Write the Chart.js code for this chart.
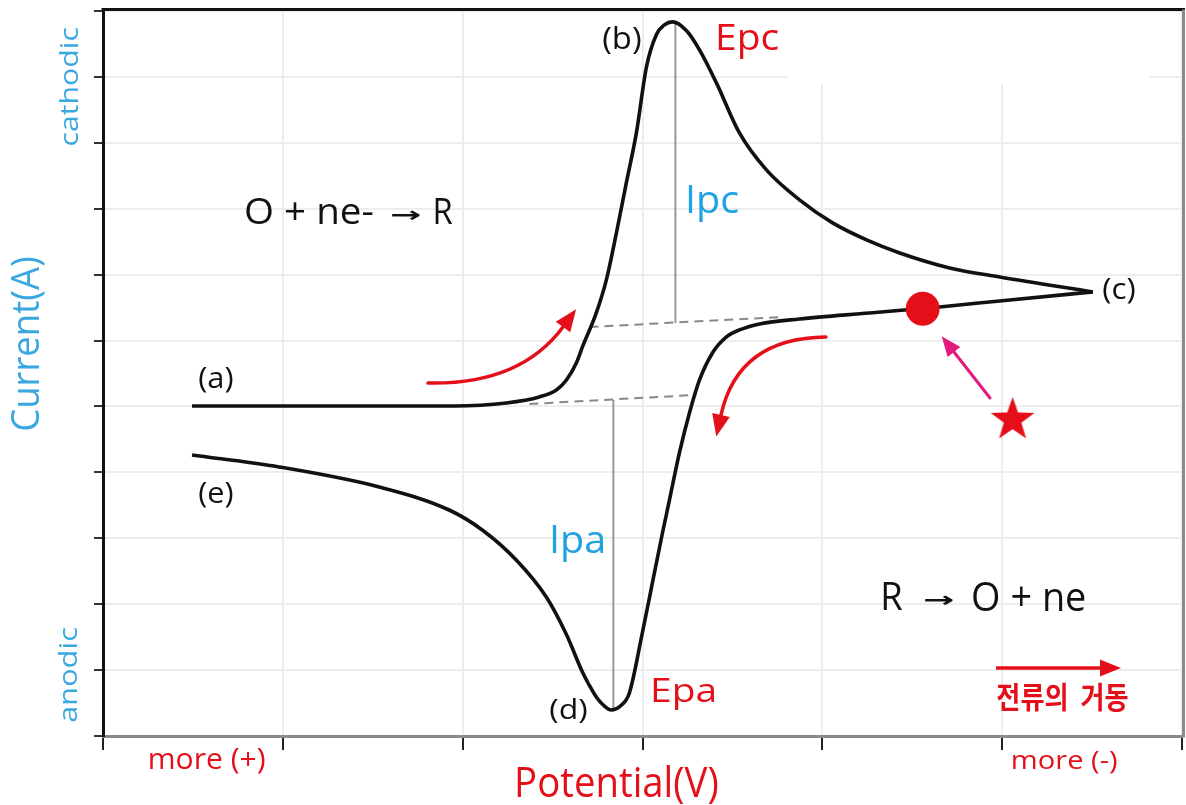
<!DOCTYPE html>
<html>
<head>
<meta charset="utf-8">
<title>Cyclic voltammogram</title>
<script src="https://cdn.jsdelivr.net/npm/chart.js@4.4.1/dist/chart.umd.min.js"></script>
<style>
  html, body { margin: 0; padding: 0; background: #fff; }
  #cv { display: block; }
</style>
</head>
<body>
<canvas id="cv" width="1186" height="805"></canvas>
<script>
// Grid units: potential 0..6 (left = more +), current 0..11 (top = cathodic)
const potentialTicks = [0, 1, 2, 3, 4, 5, 6];
const currentTicks = [0, 1, 2, 3, 4, 5, 6, 7, 8, 9, 10, 11];

// forward sweep (a) -> (b) -> (c)
const fwdE = [0.495, 1.953, 2.243, 2.426, 2.521, 2.577, 2.632, 2.666, 2.743, 2.799, 2.855, 2.910, 2.966, 3.022, 3.077, 3.122, 3.166, 3.245, 3.317, 3.411, 3.539, 3.689, 3.873, 4.057, 4.246, 4.430, 4.708, 4.986, 5.504];
const fwdI = [5.008, 5.008, 5.053, 5.144, 5.250, 5.402, 5.660, 5.903, 6.419, 6.920, 7.633, 8.392, 9.150, 10.152, 10.640, 10.790, 10.835, 10.700, 10.410, 9.909, 9.150, 8.589, 8.134, 7.785, 7.527, 7.329, 7.102, 6.965, 6.738];

// reverse sweep (c) -> (d) -> (e)
const revE = [5.504, 4.986, 4.652, 4.263, 3.873, 3.651, 3.539, 3.467, 3.389, 3.317, 3.261, 3.205, 3.150, 3.111, 3.055, 2.999, 2.927, 2.877, 2.827, 2.782, 2.743, 2.704, 2.666, 2.577, 2.465, 2.298, 2.109, 1.925, 1.536, 0.979, 0.495];
const revI = [6.738, 6.601, 6.510, 6.419, 6.328, 6.252, 6.161, 6.055, 5.812, 5.402, 4.901, 4.294, 3.581, 3.080, 2.322, 1.563, 0.653, 0.455, 0.395, 0.470, 0.592, 0.770, 0.970, 1.540, 2.109, 2.671, 3.126, 3.429, 3.778, 4.082, 4.264];

// extrapolated baselines and peak currents
const cathBaseE = [2.705, 3.779];
const cathBaseI = [6.206, 6.358];
const ipcE = [3.183, 3.183];
const ipcI = [10.835, 6.267];
const anodBaseE = [2.371, 3.300];
const anodBaseI = [5.038, 5.175];
const ipaE = [2.838, 2.838];
const ipaI = [5.099, 0.395];

// marked point on the reverse sweep, and the star pointing at it
const dotE = [4.558];
const dotI = [6.483];
const starE = [5.058];
const starI = [4.826];

const RED = '#e50f1a';
const BLUE = '#1ea2e2';
const AXIS_BLUE = '#3aa8e0';

function pts(xs, ys) {
  return xs.map((x, i) => ({ x: x, y: ys[i] }));
}

// filled five-point star used as a point style
function makeStar(r, color) {
  const c = document.createElement('canvas');
  const s = Math.ceil(r * 2 + 4);
  c.width = s; c.height = s;
  const g = c.getContext('2d');
  g.fillStyle = color;
  g.beginPath();
  for (let i = 0; i < 10; i++) {
    const rad = i % 2 === 0 ? r : r * 0.4;
    const a = -Math.PI / 2 + i * Math.PI / 5;
    const px = s / 2 + rad * Math.cos(a);
    const py = s / 2 + 2 + rad * Math.sin(a);
    i === 0 ? g.moveTo(px, py) : g.lineTo(px, py);
  }
  g.closePath();
  g.fill();
  return c;
}

// draw a string so its ink fills the box (x0,y0)-(x1,y1)
function fitText(ctx, str, x0, y0, x1, y1, color, opts) {
  opts = opts || {};
  ctx.save();
  ctx.font = opts.font || '40px "Open Sans"';
  ctx.fillStyle = color;
  ctx.textAlign = 'left';
  ctx.textBaseline = 'alphabetic';
  const m = ctx.measureText(str);
  const w = m.actualBoundingBoxLeft + m.actualBoundingBoxRight;
  const h = m.actualBoundingBoxAscent + m.actualBoundingBoxDescent;
  let bw = x1 - x0, bh = y1 - y0;
  ctx.translate((x0 + x1) / 2, (y0 + y1) / 2);
  if (opts.rotate) {
    ctx.rotate(-Math.PI / 2);
    const t = bw; bw = bh; bh = t;
  }
  ctx.scale(bw / w, bh / h);
  ctx.fillText(str, -w / 2 + m.actualBoundingBoxLeft, -h / 2 + m.actualBoundingBoxAscent);
  ctx.restore();
}

function arrowHead(ctx, bx, by, dx, dy, len, wid, color) {
  const n = Math.hypot(dx, dy);
  dx /= n; dy /= n;
  ctx.fillStyle = color;
  ctx.beginPath();
  ctx.moveTo(bx + dx * len, by + dy * len);
  ctx.lineTo(bx - dy * wid / 2, by + dx * wid / 2);
  ctx.lineTo(bx + dy * wid / 2, by - dx * wid / 2);
  ctx.closePath();
  ctx.fill();
}

function curvedArrow(ctx, p0, c, p1, color, lw, len, wid) {
  ctx.strokeStyle = color;
  ctx.lineWidth = lw;
  ctx.lineCap = 'round';
  ctx.beginPath();
  ctx.moveTo(p0[0], p0[1]);
  ctx.quadraticCurveTo(c[0], c[1], p1[0], p1[1]);
  ctx.stroke();
  arrowHead(ctx, p1[0], p1[1], p1[0] - c[0], p1[1] - c[1], len, wid, color);
}

const frame = {
  id: 'frame',
  beforeDatasetsDraw(chart) {
    // blank patch in the upper right of the grid
    const ctx = chart.ctx;
    ctx.save();
    ctx.fillStyle = '#fff';
    ctx.fillRect(787, 13, 363, 71);
    ctx.restore();
  },
  afterDatasetsDraw(chart) {
    const ctx = chart.ctx;
    const a = chart.chartArea;
    ctx.save();
    // top and right borders
    ctx.lineCap = 'butt';
    ctx.strokeStyle = '#111';
    ctx.lineWidth = 3;
    ctx.beginPath();
    ctx.moveTo(a.left - 1.5, a.top - 1.5);
    ctx.lineTo(a.right + 3, a.top - 1.5);
    ctx.stroke();
    ctx.strokeStyle = '#8a8a8a';
    ctx.beginPath();
    ctx.moveTo(a.right + 1.5, a.top - 1.5);
    ctx.lineTo(a.right + 1.5, a.bottom + 1.5);
    ctx.stroke();

    // sweep direction arrows
    curvedArrow(ctx, [428, 383], [520, 385], [563, 327], RED, 3.5, 22, 18);
    curvedArrow(ctx, [826, 337], [738, 338], [721, 415], RED, 3.5, 22, 18);
    // star -> dot
    ctx.strokeStyle = '#e4197c';
    ctx.lineWidth = 3;
    ctx.beginPath();
    ctx.moveTo(990, 398);
    ctx.lineTo(954, 352);
    ctx.stroke();
    arrowHead(ctx, 954, 352, -36, -46, 20, 16, '#e4197c');
    // current direction arrow
    ctx.strokeStyle = RED;
    ctx.lineWidth = 3.5;
    ctx.lineCap = 'butt';
    ctx.beginPath();
    ctx.moveTo(996, 668);
    ctx.lineTo(1101, 668);
    ctx.stroke();
    arrowHead(ctx, 1100, 668, 1, 0, 21, 17, RED);
    ctx.restore();
  },
  afterDraw(chart) {
    const ctx = chart.ctx;
    // axis titles
    fitText(ctx, 'cathodic', 58, 28, 78, 145, AXIS_BLUE, { rotate: true });
    fitText(ctx, 'anodic', 58, 628, 77, 722, AXIS_BLUE, { rotate: true });
    fitText(ctx, 'Current(A)', 12, 257, 45, 430, AXIS_BLUE, { rotate: true });
    fitText(ctx, 'more (+)', 150, 748, 265, 773, RED);
    fitText(ctx, 'Potential(V)', 517, 765, 718, 803, RED);
    fitText(ctx, 'more (-)', 1013, 750, 1117, 773, RED);
    // point labels
    fitText(ctx, '(a)', 199, 367, 233, 392, '#111');
    fitText(ctx, '(b)', 603, 26, 641, 54, '#111');
    fitText(ctx, '(c)', 1103, 278, 1135, 303, '#111');
    fitText(ctx, '(d)', 550, 697, 587, 723, '#111');
    fitText(ctx, '(e)', 199, 482, 233, 507, '#111');
    fitText(ctx, 'Epc', 718, 23, 778, 59, RED);
    fitText(ctx, 'Ipc', 688, 185, 738, 222, BLUE);
    fitText(ctx, 'Ipa', 552, 525, 603, 563, BLUE);
    fitText(ctx, 'Epa', 653, 678, 714, 710, RED);
    // half reactions
    fitText(ctx, 'O + ne-', 246, 198, 373, 224, '#111');
    fitText(ctx, '→', 392, 210, 420, 220, '#111', { font: 'bold 40px "DejaVu Sans"' });
    fitText(ctx, 'R', 435, 198, 453, 224, '#111');
    fitText(ctx, 'R', 883, 582, 903, 610, '#111');
    fitText(ctx, '→', 925, 595, 953, 605, '#111', { font: 'bold 40px "DejaVu Sans"' });
    fitText(ctx, 'O + ne', 973, 582, 1085, 611, '#111');
    fitText(ctx, '전류의  거동', 997, 683, 1128, 712, RED, { font: 'bold 40px "Noto Sans CJK KR"' });
  }
};

const curveStyle = {
  showLine: true,
  borderColor: '#111',
  borderWidth: 3.6,
  pointRadius: 0,
  cubicInterpolationMode: 'monotone',
  fill: false
};

const dashStyle = { showLine: true, borderColor: '#888', borderWidth: 2, borderDash: [9, 6], pointRadius: 0, order: 3 };
const peakStyle = { showLine: true, borderColor: '#999', borderWidth: 2, pointRadius: 0, order: 3 };

new Chart(document.getElementById('cv'), {
  type: 'scatter',
  data: {
    datasets: [
      { data: pts(dotE, dotI), pointRadius: 17, pointBackgroundColor: RED, pointBorderWidth: 0, order: 0 },
      { data: pts(starE, starI), pointStyle: makeStar(23, RED), order: 0 },
      Object.assign({ data: pts(fwdE, fwdI), order: 2 }, curveStyle),
      Object.assign({ data: pts(revE, revI), order: 2 }, curveStyle),
      Object.assign({ data: pts(cathBaseE, cathBaseI) }, dashStyle),
      Object.assign({ data: pts(anodBaseE, anodBaseI) }, dashStyle),
      Object.assign({ data: pts(ipcE, ipcI) }, peakStyle),
      Object.assign({ data: pts(ipaE, ipaI) }, peakStyle)
    ]
  },
  options: {
    responsive: false,
    animation: false,
    devicePixelRatio: 1,
    layout: { autoPadding: false, padding: { left: 94, right: 4, top: 11, bottom: 55 } },
    plugins: {
      legend: { display: false },
      tooltip: { enabled: false }
    },
    scales: {
      x: {
        type: 'linear',
        min: 0,
        max: 6,
        afterBuildTicks: (s) => { s.ticks = potentialTicks.map(v => ({ value: v })); },
        ticks: { display: false },
        grid: { color: '#ededed', lineWidth: 2, tickLength: 14, tickColor: '#222', tickWidth: 2 },
        border: { color: '#8a8a8a', width: 3 }
      },
      y: {
        type: 'linear',
        min: 0,
        max: 11,
        afterBuildTicks: (s) => { s.ticks = currentTicks.map(v => ({ value: v })); },
        ticks: { display: false },
        grid: { color: '#ededed', lineWidth: 2, tickLength: 9, tickColor: '#333', tickWidth: 2 },
        border: { color: '#111', width: 3 }
      }
    }
  },
  plugins: [frame]
});
</script>
</body>
</html>
